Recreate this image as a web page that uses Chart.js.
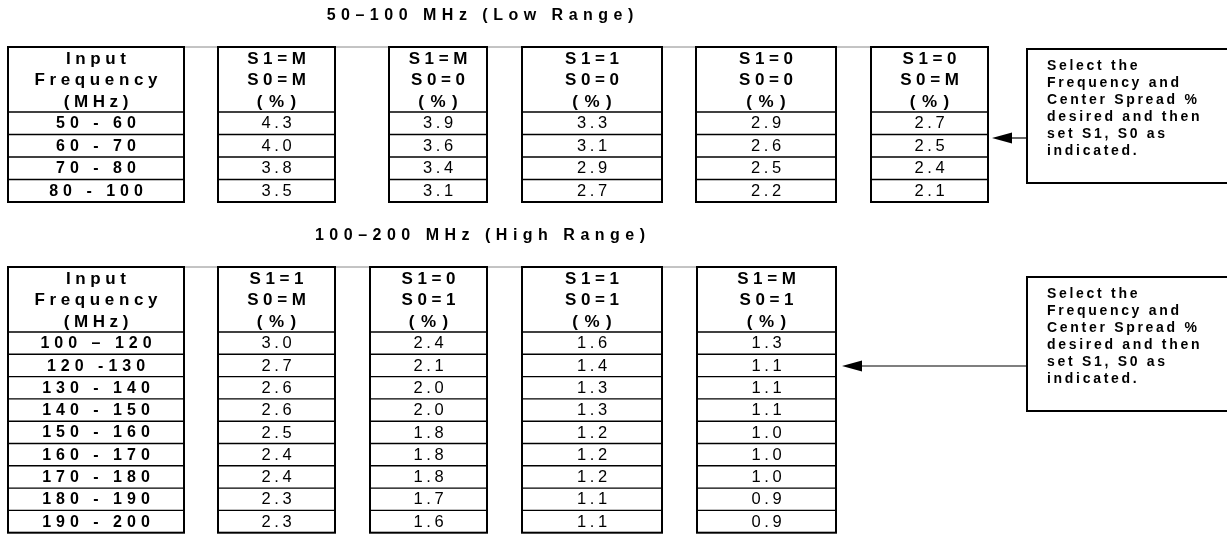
<!DOCTYPE html>
<html>
<head>
<meta charset="utf-8">
<script src="https://cdn.jsdelivr.net/npm/chart.js@4"></script>
<style>
  html, body { margin: 0; padding: 0; background: #fff; }
  #wrap { width: 1227px; height: 534px; position: relative; }
</style>
</head>
<body>
<div id="wrap"><canvas id="myChart"></canvas></div>
<script>
// tabelas de spread, desenhadas num canvas do Chart.js

// faixa baixa 50-100 MHz
var lowTitle = '50\u2013100 MHz (Low Range)'
var lowRanges = ['50 - 60', '60 - 70', '70 - 80', '80 - 100']
var lowHeaders = [['S1=M', 'S0=M'], ['S1=M', 'S0=0'], ['S1=1', 'S0=0'], ['S1=0', 'S0=0'], ['S1=0', 'S0=M']]
var lowMM = [4.3, 4.0, 3.8, 3.5]
var lowM0 = [3.9, 3.6, 3.4, 3.1]
var low10 = [3.3, 3.1, 2.9, 2.7]
var low00 = [2.9, 2.6, 2.5, 2.2]
var low0M = [2.7, 2.5, 2.4, 2.1]

// faixa alta 100-200 MHz
var highTitle = '100\u2013200 MHz (High Range)'
var highRanges = ['100 \u2013 120', '120 -130', '130 - 140', '140 - 150', '150 - 160', '160 - 170', '170 - 180', '180 - 190', '190 - 200']
var highHeaders = [['S1=1', 'S0=M'], ['S1=0', 'S0=1'], ['S1=1', 'S0=1'], ['S1=M', 'S0=1']]
var high1M = [3.0, 2.7, 2.6, 2.6, 2.5, 2.4, 2.4, 2.3, 2.3]
var high01 = [2.4, 2.1, 2.0, 2.0, 1.8, 1.8, 1.8, 1.7, 1.6]
var high11 = [1.6, 1.4, 1.3, 1.3, 1.2, 1.2, 1.2, 1.1, 1.1]
var highM1 = [1.3, 1.1, 1.1, 1.1, 1.0, 1.0, 1.0, 0.9, 0.9]

var freqHeader = ['Input', 'Frequency', '(MHz)']
var noteLines = ['Select the', 'Frequency and', 'Center Spread %', 'desired and then', 'set S1, S0 as', 'indicated.']

const W = 1227, H = 534
const FONT = '"Liberation Sans", Arial, sans-serif'

// layout (pixels in page units)
const lowLayout = { top: 47, headH: 65, rowH: 22.5, titleY: 16,
    cols: [[8, 184], [218, 335], [389, 487], [522, 662], [696, 836], [871, 988]],
    note: { x: 1027, y: 49, h: 134, arrowY: 138, tip: 992 } }
const highLayout = { top: 267, headH: 65, rowH: 22.3, titleY: 236,
    cols: [[8, 184], [218, 335], [370, 487], [522, 662], [697, 836]],
    note: { x: 1027, y: 277, h: 134, arrowY: 366, tip: 842 } }

function spaced(ctx, text, x, y, sp, align) {
    var w = 0
    for (const ch of text) w += ctx.measureText(ch).width + sp
    w -= sp
    var cx = align === 'center' ? x - w / 2 : x
    ctx.textAlign = 'left'
    for (const ch of text) {
        ctx.fillText(ch, cx, y)
        cx += ctx.measureText(ch).width + sp
    }
}

function drawTable(chart, lay, title, ranges, headers, cols) {
    const ctx = chart.ctx
    const sx = v => chart.scales.x.getPixelForValue(v)
    const sy = v => chart.scales.y.getPixelForValue(v)
    const n = ranges.length
    const bottom = lay.top + lay.headH + n * lay.rowH
    ctx.save()
    ctx.fillStyle = '#000'
    ctx.textBaseline = 'middle'

    // titulo
    ctx.font = 'bold 16px ' + FONT
    spaced(ctx, title, sx(480), sy(lay.titleY), 5.5, 'center')

    // linha fina no topo
    ctx.strokeStyle = '#888'
    ctx.lineWidth = 1
    ctx.beginPath()
    ctx.moveTo(sx(lay.cols[0][0]), sy(lay.top))
    ctx.lineTo(sx(lay.cols[lay.cols.length - 1][1]), sy(lay.top))
    ctx.stroke()

    lay.cols.forEach((c, ci) => {
        const x0 = sx(c[0]), x1 = sx(c[1]), xm = (x0 + x1) / 2
        // linhas das células
        ctx.strokeStyle = '#000'
        ctx.lineWidth = 1.4
        for (let r = 0; r < n; r++) {
            const yy = sy(lay.top + lay.headH + r * lay.rowH)
            ctx.beginPath()
            ctx.moveTo(x0, yy)
            ctx.lineTo(x1, yy)
            ctx.stroke()
        }
        ctx.lineWidth = 2
        ctx.strokeRect(x0, sy(lay.top), x1 - x0, sy(bottom) - sy(lay.top))

        // cabeçalho
        const head = ci === 0 ? freqHeader : headers[ci - 1].concat(['(%)'])
        ctx.font = 'bold 17px ' + FONT
        head.forEach((t, i) => {
            const sp = t === '(%)' ? 6.5 : 4.6
            spaced(ctx, t, xm, sy(lay.top + 12.5 + i * 21.3), sp, 'center')
        })

        // valores
        for (let r = 0; r < n; r++) {
            const yy = sy(lay.top + lay.headH + (r + 0.5) * lay.rowH + 0.7)
            if (ci === 0) {
                ctx.font = 'bold 16px ' + FONT
                spaced(ctx, ranges[r], xm, yy, 5, 'center')
            } else {
                ctx.font = '16.5px ' + FONT
                spaced(ctx, cols[ci - 1][r].toFixed(1), xm, yy, 3.6, 'center')
            }
        }
    })

    // caixa de nota e seta
    const nt = lay.note
    ctx.strokeStyle = '#000'
    ctx.lineWidth = 2
    ctx.strokeRect(sx(nt.x), sy(nt.y), sx(W + 10) - sx(nt.x), sy(nt.y + nt.h) - sy(nt.y))
    ctx.lineWidth = 1.2
    ctx.beginPath()
    ctx.moveTo(sx(nt.x), sy(nt.arrowY))
    ctx.lineTo(sx(nt.tip + 18), sy(nt.arrowY))
    ctx.stroke()
    ctx.beginPath()
    ctx.moveTo(sx(nt.tip), sy(nt.arrowY))
    ctx.lineTo(sx(nt.tip + 20), sy(nt.arrowY - 5.5))
    ctx.lineTo(sx(nt.tip + 20), sy(nt.arrowY + 5.5))
    ctx.closePath()
    ctx.fill()

    ctx.font = 'bold 14px ' + FONT
    noteLines.forEach((t, i) => {
        spaced(ctx, t, sx(nt.x + 20), sy(nt.y + 17 + i * 17.1), 2.7, 'left')
    })
    ctx.restore()
}

const tablesPlugin = {
    id: 'tables',
    afterDraw(chart) {
        drawTable(chart, lowLayout, lowTitle, lowRanges, lowHeaders, [lowMM, lowM0, low10, low00, low0M])
        drawTable(chart, highLayout, highTitle, highRanges, highHeaders, [high1M, high01, high11, highM1])
    }
}

var ctx = document.getElementById('myChart')
var myChart = new Chart(ctx, {
    type: 'scatter',
    data: { datasets: [] },
    options: {
        responsive: true,
        maintainAspectRatio: false,
        animation: false,
        layout: { padding: 0 },
        plugins: { legend: { display: false }, tooltip: { enabled: false } },
        scales: {
            x: { type: 'linear', min: 0, max: W, display: false },
            y: { type: 'linear', min: 0, max: H, reverse: true, display: false }
        }
    },
    plugins: [tablesPlugin]
})
</script>
</body>
</html>
